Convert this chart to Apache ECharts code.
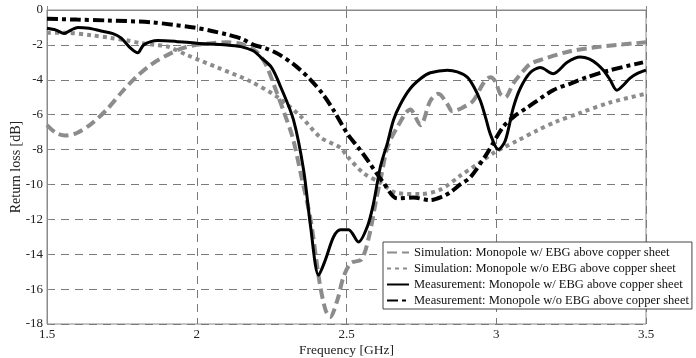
<!DOCTYPE html>
<html>
<head>
<meta charset="utf-8">
<script src="https://cdn.jsdelivr.net/npm/echarts@6/dist/echarts.min.js"></script>
<style>
  html, body { margin: 0; padding: 0; background: #fff; }
  #chart { width: 696px; height: 358px; }
</style>
</head>
<body>
<div id="chart"></div>
<script>
// Return loss curves, [frequency GHz, dB]
const simWithEBG = [
  [1.5,-6.6],[1.53,-7.05],[1.56,-7.2],[1.6,-7.05],[1.65,-6.5],[1.7,-5.7],[1.75,-4.7],
  [1.8,-3.8],[1.85,-3.1],[1.9,-2.6],[1.95,-2.2],[2.0,-2.0],[2.05,-1.9],[2.1,-1.85],
  [2.15,-1.95],[2.2,-2.4],[2.23,-3.1],[2.26,-4.4],[2.29,-5.8],[2.32,-7.3],[2.35,-9.6],
  [2.38,-12.0],[2.41,-15.6],[2.43,-17.2],[2.445,-17.6],[2.47,-16.6],[2.49,-15.3],
  [2.515,-14.5],[2.55,-14.3],[2.575,-13.0],[2.6,-10.8],[2.615,-9.6],[2.637,-7.85],
  [2.67,-6.7],[2.713,-5.7],[2.747,-6.6],[2.78,-5.2],[2.807,-4.8],[2.837,-5.4],
  [2.853,-5.8],[2.887,-5.6],[2.923,-5.2],[2.957,-4.2],[2.98,-3.85],[2.997,-4.1],
  [3.013,-4.8],[3.03,-5.0],[3.057,-4.2],[3.09,-3.5],[3.113,-3.1],[3.15,-2.85],
  [3.25,-2.35],[3.35,-2.1],[3.5,-1.85]
];
const simWithoutEBG = [
  [1.5,-1.3],[1.56,-1.3],[1.65,-1.45],[1.713,-1.6],[1.77,-1.75],[1.813,-1.9],
  [1.86,-2.0],[1.903,-2.1],[1.97,-2.6],[2.07,-3.3],[2.18,-4.1],[2.27,-5.0],
  [2.347,-6.1],[2.413,-7.3],[2.48,-7.9],[2.503,-8.4],[2.557,-9.35],[2.613,-9.9],
  [2.67,-10.5],[2.747,-10.55],[2.813,-10.3],[2.88,-9.5],[2.94,-8.8],[3.0,-8.1],
  [3.07,-7.5],[3.137,-6.9],[3.2,-6.4],[3.28,-5.9],[3.38,-5.3],[3.5,-4.8]
];
const measWithEBG = [
  [1.5,-1.05],[1.53,-1.15],[1.557,-1.35],[1.58,-1.15],[1.603,-1.0],[1.64,-1.05],
  [1.68,-1.2],[1.72,-1.35],[1.747,-1.6],[1.78,-2.2],[1.803,-2.45],[1.823,-2.0],
  [1.87,-1.75],[1.93,-1.8],[2.0,-1.9],[2.1,-2.0],[2.147,-2.1],[2.19,-2.35],
  [2.213,-2.7],[2.25,-3.3],[2.28,-4.4],[2.323,-6.3],[2.357,-9.2],[2.38,-12.4],
  [2.407,-15.2],[2.43,-14.3],[2.457,-13.0],[2.48,-12.6],[2.507,-12.6],[2.54,-13.3],
  [2.57,-12.4],[2.59,-11.1],[2.613,-9.0],[2.637,-7.6],[2.657,-6.3],[2.68,-5.4],
  [2.713,-4.5],[2.75,-3.9],[2.78,-3.6],[2.837,-3.45],[2.87,-3.55],[2.903,-3.85],
  [2.925,-4.4],[2.947,-5.2],[2.965,-6.2],[2.98,-7.1],[3.007,-8.0],[3.03,-7.5],
  [3.057,-5.6],[3.08,-4.5],[3.113,-3.6],[3.147,-3.3],[3.19,-3.65],[3.237,-3.0],
  [3.28,-2.7],[3.31,-2.8],[3.337,-3.1],[3.36,-3.5],[3.38,-4.0],[3.403,-4.6],
  [3.425,-4.3],[3.447,-3.9],[3.47,-3.65],[3.5,-3.45]
];
const measWithoutEBG = [
  [1.5,-0.5],[1.6,-0.55],[1.7,-0.6],[1.847,-0.7],[1.92,-0.85],[1.99,-1.0],
  [2.05,-1.2],[2.1,-1.4],[2.15,-1.65],[2.19,-2.0],[2.23,-2.2],[2.27,-2.5],
  [2.33,-3.2],[2.38,-4.0],[2.42,-4.8],[2.457,-5.75],[2.503,-7.1],[2.54,-7.9],
  [2.57,-8.6],[2.623,-9.9],[2.67,-10.8],[2.723,-10.75],[2.78,-10.9],[2.82,-10.7],
  [2.847,-10.45],[2.88,-10.0],[2.913,-9.6],[2.97,-8.2],[3.023,-6.7],[3.06,-6.1],
  [3.103,-5.6],[3.19,-4.6],[3.25,-4.2],[3.303,-3.85],[3.38,-3.45],[3.49,-3.0]
];

const seriesNames = [
  'Simulation: Monopole w/ EBG above copper sheet',
  'Simulation: Monopole w/o EBG above copper sheet',
  'Measurement: Monopole w/ EBG above copper sheet',
  'Measurement: Monopole w/o EBG above copper sheet'
];
const xTicks = { min: 1.5, max: 3.5, step: 0.5 };
const yTicks = { min: -18, max: 0, step: 2 };

const FONT = 'Liberation Serif';
const AXIS_GREY = '#8a8a8a';
const gridLine = { show: true, lineStyle: { color: '#7a7a7a', width: 1, type: [8, 6] } };
const innerTick = { show: true, inside: true, length: 4, lineStyle: { color: AXIS_GREY } };

function curve(name, data, color, width, dash) {
  return {
    name, type: 'line', data,
    smooth: 0.3, symbol: 'none', clip: true,
    lineStyle: { color, width, type: dash, cap: 'butt' },
    itemStyle: { color }
  };
}

const chart = echarts.init(document.getElementById('chart'), null, { renderer: 'canvas' });
chart.setOption({
  animation: false,
  backgroundColor: '#fff',
  textStyle: { fontFamily: FONT },
  grid: {
    left: 47, right: 50, top: 10, bottom: 34,
    outerBoundsMode: 'none', containLabel: false,
    show: true, borderColor: AXIS_GREY, borderWidth: 1
  },
  xAxis: {
    type: 'value', min: xTicks.min, max: xTicks.max, interval: xTicks.step,
    name: 'Frequency [GHz]', nameLocation: 'middle', nameGap: 19, nameMoveOverlap: false,
    nameTextStyle: { fontFamily: FONT, fontSize: 13.5, color: '#222' },
    axisLine: { show: true, lineStyle: { color: AXIS_GREY } },
    axisTick: innerTick,
    axisLabel: { fontFamily: FONT, fontSize: 13, color: '#222', margin: 4,
      formatter: v => String(v) },
    splitLine: gridLine
  },
  yAxis: {
    type: 'value', min: yTicks.min, max: yTicks.max, interval: yTicks.step,
    name: 'Return loss [dB]', nameLocation: 'middle', nameGap: 24, nameMoveOverlap: false,
    nameTextStyle: { fontFamily: FONT, fontSize: 14, color: '#222' },
    axisLine: { show: true, lineStyle: { color: AXIS_GREY } },
    axisTick: innerTick,
    axisLabel: { fontFamily: FONT, fontSize: 13, color: '#222', margin: 4 },
    splitLine: gridLine
  },
  legend: {
    orient: 'vertical', left: 383, top: 242,
    padding: [4, 3, 2, 3], itemGap: 3,
    itemWidth: 22, itemHeight: 14,
    backgroundColor: '#fff', borderColor: '#444', borderWidth: 1,
    itemStyle: { color: 'rgba(0,0,0,0)', borderWidth: 0 },
    textStyle: { fontFamily: FONT, fontSize: 12.5, color: '#111' },
    data: seriesNames
  },
  series: [
    curve(seriesNames[0], simWithEBG, '#8c8c8c', 4, [10, 5]),
    curve(seriesNames[1], simWithoutEBG, '#8c8c8c', 4, [4, 4]),
    curve(seriesNames[2], measWithEBG, '#000', 3, 'solid'),
    curve(seriesNames[3], measWithoutEBG, '#000', 4, [11, 4, 4, 4])
  ]
});
</script>
</body>
</html>
